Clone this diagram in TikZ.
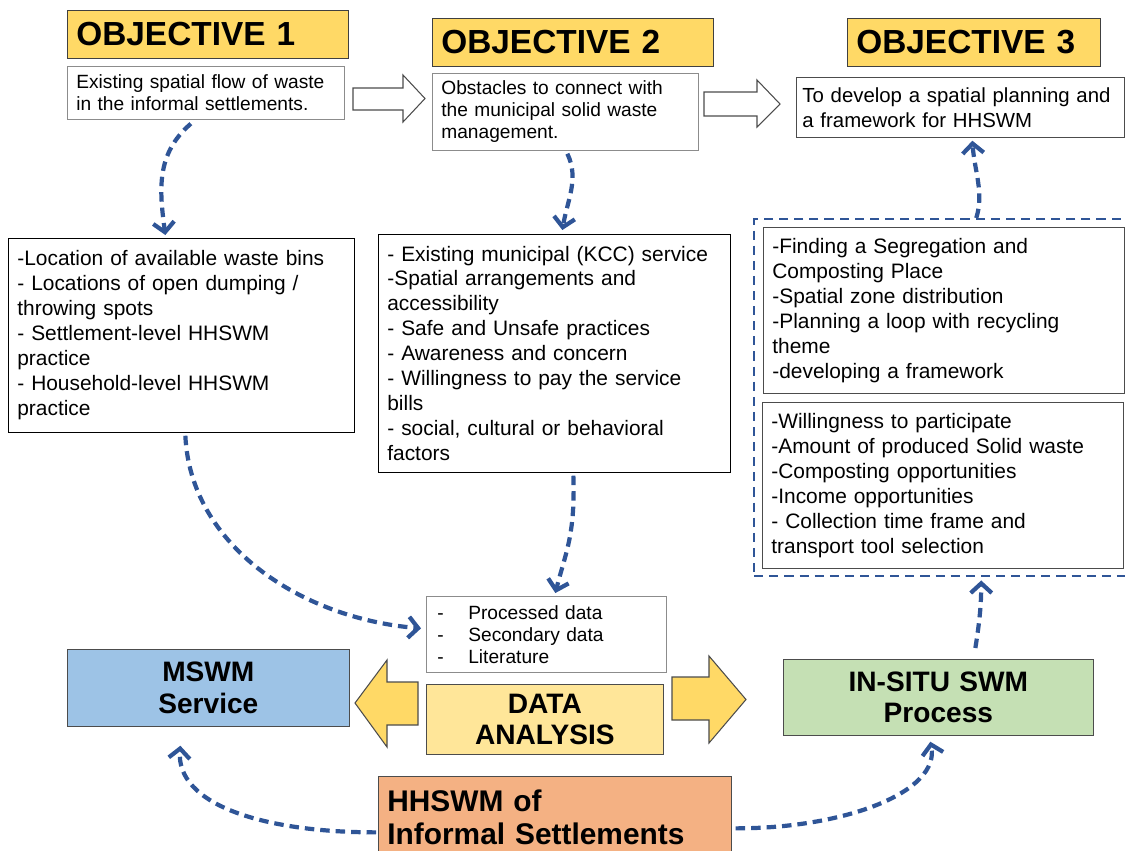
\documentclass[tikz,border=0pt]{standalone}
\usepackage{fontspec}
\setmainfont{Liberation Sans}
\usetikzlibrary{arrows.meta, calc, positioning}

\definecolor{objyellow}{HTML}{FFD966}
\definecolor{anayellow}{HTML}{FFE699}
\definecolor{mswmblue}{HTML}{9DC3E6}
\definecolor{insitugreen}{HTML}{C5E0B4}
\definecolor{hhswmorange}{HTML}{F4B183}
\definecolor{flowblue}{HTML}{2F5597}

\newcommand{\pix}{0.02cm}

\tikzset{
	pxsize/.style 2 args = {minimum width = #1*\pix, minimum height = #2*\pix, text width = (#1-18)*\pix},
	header/.style = {draw = black!75, fill = objyellow, anchor = north west, align = left,
		inner xsep = 9*\pix, inner ysep = 0pt, font = \bfseries\fontsize{19}{22}\selectfont},
	txtbox/.style = {draw = black!45, fill = white, anchor = north west, align = left,
		inner xsep = 9*\pix, inner ysep = 0pt, font = \fontsize{11.9}{14.2}\selectfont},
	small/.style = {font = \fontsize{10.9}{12.6}\selectfont},
	result/.style = {draw = black!70, anchor = north west, align = center,
		inner xsep = 9*\pix, inner ysep = 0pt, font = \bfseries\fontsize{16}{18}\selectfont},
	flow/.style = {draw = flowblue, line width = 2.4pt, dash pattern = on 5.4pt off 3.4pt,
		-{Straight Barb[length = 5.5pt, width = 12pt]}},
	hollow/.style = {draw = black!70, fill = white, line width = 0.6pt},
	yellowarrow/.style = {draw = black!70, fill = objyellow, line width = 0.6pt}
}

\begin{document}
\begin{tikzpicture}[x = 0.02cm, y = -0.02cm]

	\useasboundingbox (0, 0) rectangle (1125, 850);

	% Objectives
	
	\node [header, pxsize = {281}{48}] (obj1) at (67, 10) {OBJECTIVE 1};
	\node [txtbox, small, pxsize = {277}{53}] (ob1txt) at (67, 66) {Existing spatial flow of waste\\in the informal settlements.};
	
	\node [header, pxsize = {281}{48}] (obj2) at (432, 18) {OBJECTIVE 2};
	\node [txtbox, small, pxsize = {266}{77}] (ob2txt) at (432, 73) {Obstacles to connect with\\the municipal solid waste\\management.};
	
	\node [header, pxsize = {253}{48}] (obj3) at (847, 18) {OBJECTIVE 3};
	\node [txtbox, draw = black!70, pxsize = {328}{60}, inner xsep = 6*\pix, text width = 316*\pix,
		font = \fontsize{11.6}{14.2}\selectfont] (ob3txt) at (796, 77) {To develop a spatial planning and\\a framework for HHSWM};
	
	% Hollow arrows between objectives
	
	\draw [hollow] (353, 88) -- (403, 88) -- (403, 75) -- (425, 98.5) -- (403, 122) -- (403, 110) -- (353, 110) -- cycle;
	\draw [hollow] (704, 92) -- (757, 92) -- (757, 80) -- (780, 104) -- (757, 127) -- (757, 116) -- (704, 116) -- cycle;
	
	% Detail boxes
	
	\node [txtbox, draw = black, pxsize = {346}{194}] (loc) at (8, 238)
		{-Location of available waste bins\\- Locations of open dumping /\\throwing spots\\- Settlement-level HHSWM\\practice\\- Household-level HHSWM\\practice};
	
	\node [txtbox, draw = black, pxsize = {352}{238}] (mun) at (378, 234)
		{- Existing municipal (KCC) service\\-Spatial arrangements and\\accessibility\\- Safe and Unsafe practices\\- Awareness and concern\\- Willingness to pay the service\\bills\\- social, cultural or behavioral\\factors};
	
	\node [draw = flowblue, line width = 1.4pt, dash pattern = on 5.2pt off 3.4pt, anchor = north west,
		minimum width = 390*\pix, minimum height = 357*\pix] (plan) at (753, 218) {};
	
	\node [txtbox, draw = black!70, pxsize = {361}{166}] (zone) at (763, 227)
		{-Finding a Segregation and\\Composting Place\\-Spatial zone distribution\\-Planning a loop with recycling\\theme\\-developing a framework};
	
	\node [txtbox, draw = black!70, pxsize = {361}{166}] (part) at (762, 402)
		{-Willingness to participate\\-Amount of produced Solid waste\\-Composting opportunities\\-Income opportunities\\- Collection time frame and\\transport tool selection};
	
	% Data and analysis
	
	\node [txtbox, small, pxsize = {236}{76}, inner xsep = 11*\pix] (data) at (426, 596)
		{\makebox[0.62cm][l]{-}Processed data\\\makebox[0.62cm][l]{-}Secondary data\\\makebox[0.62cm][l]{-}Literature};
	
	\node [result, fill = anayellow, pxsize = {237}{70}] (ana) at (426, 684) {DATA\\ANALYSIS};
	\node [result, fill = mswmblue, pxsize = {282}{77}] (mswm) at (67, 649) {MSWM\\Service};
	\node [result, fill = insitugreen, pxsize = {310}{76}] (insitu) at (783, 659) {IN-SITU SWM\\Process};
	\node [result, fill = hhswmorange, pxsize = {353}{82}, align = left, font = \bfseries\fontsize{17}{18.5}\selectfont] (hhswm) at (378, 776)
		{HHSWM of\\Informal Settlements};
	
	% Yellow arrows out of the analysis
	
	\draw [yellowarrow] (418, 682) -- (387, 682) -- (387, 660) -- (355, 703) -- (387, 747) -- (387, 725) -- (418, 725) -- cycle;
	\draw [yellowarrow] (672, 677) -- (709, 677) -- (709, 656) -- (746, 699.5) -- (709, 743) -- (709, 720) -- (672, 720) -- cycle;
	
	% Dashed flows
	
	\draw [flow] ($(ob1txt.south) + (-15, 4)$) .. controls +(-35, 30) and +(-6, -45) .. ($(loc.north) + (-16, -3)$);
	\draw [flow] ($(ob2txt.south) + (2, 3)$) .. controls +(12, 25) and +(5, -30) .. ($(mun.north) + (8, -4)$);
	\draw [flow] ($(loc.south) + (4, 3)$) .. controls +(5, 110) and +(-120, -10) .. ($(data.west) + (-5, -6)$);
	\draw [flow] ($(mun.south) + (19, 3)$) .. controls +(2, 60) and +(10, -40) .. ($(data.north) + (9, -3)$);
	\draw [flow] ($(plan.north) + (27, 0)$) .. controls +(8, -25) and +(2, 30) .. ($(ob3txt.south) + (12, 3)$);
	\draw [flow] ($(insitu.north) + (37, -11)$) .. controls +(4, -25) and +(0, 25) .. ($(plan.south) + (32, 3)$);
	\draw [flow] ($(hhswm.west) + (-2, 15)$) .. controls +(-110, 0) and +(-5, 60) .. ($(mswm.south) + (-28, 19)$);
	\draw [flow] ($(hhswm.east) + (4, 11)$) .. controls +(110, 0) and +(10, 50) .. ($(insitu.south) + (-8, 6)$);

\end{tikzpicture}
\end{document}
